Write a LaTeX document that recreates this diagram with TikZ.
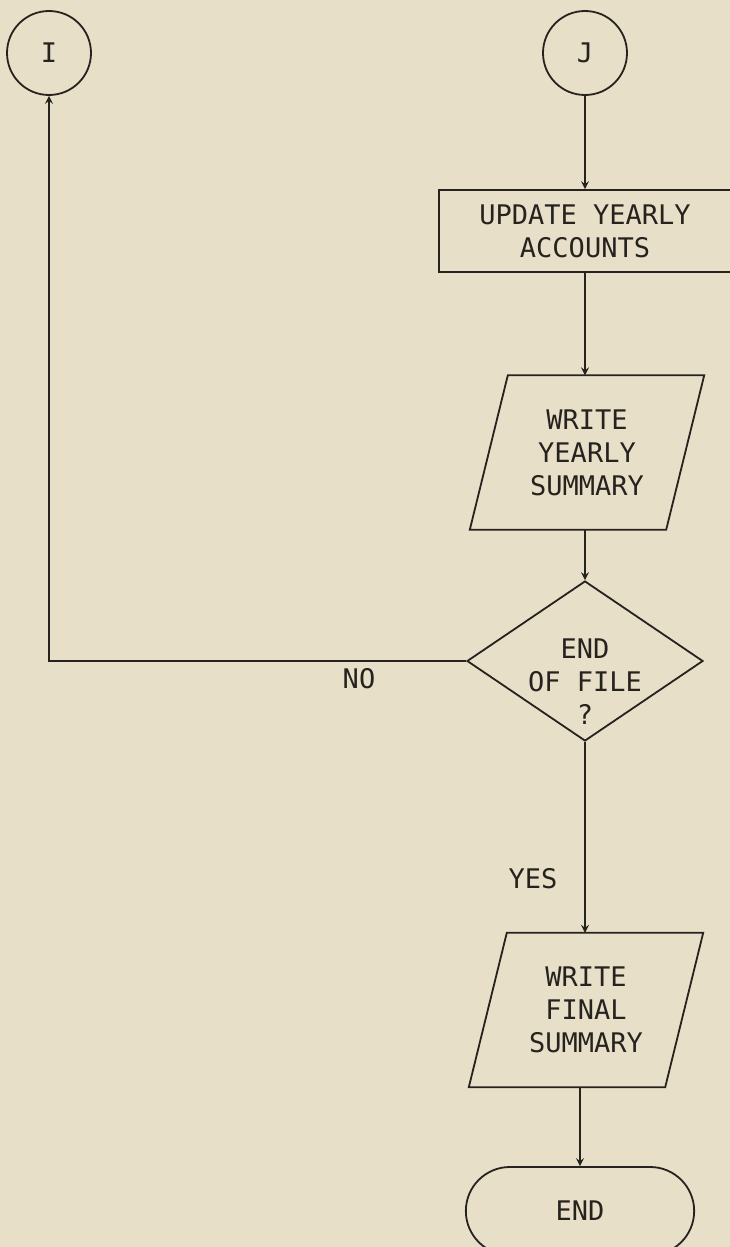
\documentclass[tikz,border=0pt]{standalone}
\usepackage{fontspec}
\newfontfamily\plotfont{DejaVu Sans Mono}
\usetikzlibrary{shapes.geometric,shapes.misc,arrows.meta}
\definecolor{bg}{RGB}{232,223,200}
\definecolor{ink}{RGB}{38,34,30}
\begin{document}
\begin{tikzpicture}[x=1pt,y=-1pt,
  font={\plotfont\fontsize{27pt}{33pt}\selectfont},
  conn/.style={circle, draw=ink, text=ink, line width=1.8pt, minimum size=84pt, inner sep=0pt},
  proc/.style={rectangle, draw=ink, text=ink, line width=1.8pt, minimum width=292pt, minimum height=82pt, align=center},
  io/.style={rectangle, text=ink, minimum width=196pt, minimum height=154pt, align=center, inner sep=0pt},
  ioline/.style={draw=ink, line width=1.8pt, line join=miter},
  dec/.style={diamond, draw=ink, line width=1.8pt, minimum width=236pt, minimum height=160pt, inner sep=0pt},
  term/.style={rounded rectangle, draw=ink, text=ink, line width=1.8pt, minimum width=235pt, minimum height=88pt},
  flow/.style={draw=ink, line width=1.1pt, -{Stealth[length=8pt,width=8pt,inset=3pt]}},
  lab/.style={text=ink, inner sep=0pt}
]
\useasboundingbox (0,0) rectangle (730,1247);
\clip (0,0) rectangle (730,1247);
\fill[bg] (0,0) rectangle (730,1247);

\node[conn] (I) at (49,53) {I};
\node[conn] (J) at (585,53) {J};
\node[proc] (upd) at (585,231) {UPDATE YEARLY\\ACCOUNTS};
\node[io] (p1) at (587,452.5) {WRITE\\YEARLY\\SUMMARY};
\draw[ioline] ([xshift=19pt]p1.north west) -- ([xshift=19pt]p1.north east)
  -- ([xshift=-19pt]p1.south east) -- ([xshift=-19pt]p1.south west) -- cycle;
\node[dec] (d) at (585,661) {};
\node[lab, align=center] (dt) at (585,682) {END\\OF FILE\\?};
\node[lab] (no) at (359,679) {NO};
\node[lab] (yes) at (533,879) {YES};
\node[io] (p2) at (586,1010) {WRITE\\FINAL\\SUMMARY};
\draw[ioline] ([xshift=19pt]p2.north west) -- ([xshift=19pt]p2.north east)
  -- ([xshift=-19pt]p2.south east) -- ([xshift=-19pt]p2.south west) -- cycle;
\node[term] (endn) at (580,1211) {END};

\draw[flow] (J) -- (upd);
\draw[flow] (upd.south) -- (upd.south |- p1.north);
\draw[flow] (p1.south -| d.north) -- (d.north);
\draw[flow] (d.west) -- (d.west -| I) -- (I);
\draw[flow] (d.south) -- (d.south |- p2.north);
\draw[flow] (p2.south -| endn.north) -- (endn.north);
\end{tikzpicture}
\end{document}
